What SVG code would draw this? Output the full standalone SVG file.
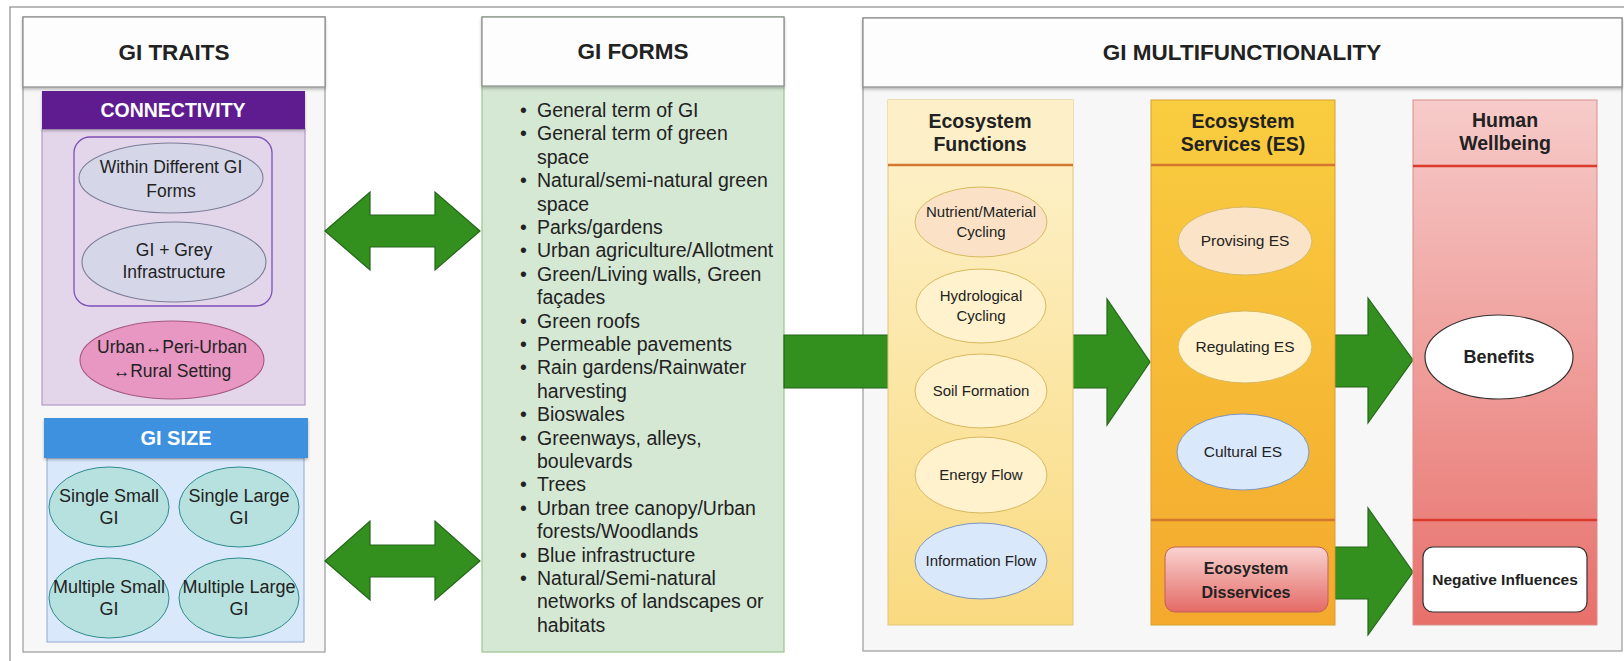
<svg xmlns="http://www.w3.org/2000/svg" width="1624" height="661" viewBox="0 0 1624 661">
  <defs>
    <style>
      text { font-family: "Liberation Sans", Arial, sans-serif; fill: #222; }
      .hdr { font-size: 22.5px; font-weight: bold; text-anchor: middle; }
      .sub { font-size: 19.5px; font-weight: bold; text-anchor: middle; fill: #fff; }
      .col { font-size: 19.5px; font-weight: bold; text-anchor: middle; }
      .lbl { font-size: 17.5px; text-anchor: middle; }
      .sm  { font-size: 18px; text-anchor: middle; }
      .ef  { font-size: 15px; text-anchor: middle; }
      .es  { font-size: 15.5px; text-anchor: middle; }
      .bl  { font-size: 16px; font-weight: bold; text-anchor: middle; }
      .list { font-size: 19.5px; }
      .panel { fill: #f7f7f7; stroke: #9a9a9a; stroke-width: 1.2; }
      .phead { fill: #fdfdfd; stroke: #8a8a8a; stroke-width: 1.2; }
      .arrow { fill: #33901f; stroke: #24661a; stroke-width: 1.2; }
    </style>
    <linearGradient id="gEF" x1="0" y1="0" x2="0" y2="1">
      <stop offset="0" stop-color="#fef3cf"/>
      <stop offset="1" stop-color="#f9da80"/>
    </linearGradient>
    <linearGradient id="gES" x1="0" y1="0" x2="0" y2="1">
      <stop offset="0" stop-color="#f9cd40"/>
      <stop offset="1" stop-color="#f4a92d"/>
    </linearGradient>
    <linearGradient id="gHW" x1="0" y1="0" x2="0" y2="1">
      <stop offset="0" stop-color="#f6cbc9"/>
      <stop offset="1" stop-color="#e8706b"/>
    </linearGradient>
    <linearGradient id="gDis" x1="0" y1="0" x2="0" y2="1">
      <stop offset="0" stop-color="#f9d3d0"/>
      <stop offset="1" stop-color="#e56a66"/>
    </linearGradient>
    <filter id="shadow" x="-5%" y="-20%" width="110%" height="150%">
      <feDropShadow dx="0" dy="2" stdDeviation="1.5" flood-color="#000" flood-opacity="0.25"/>
    </filter>
  </defs>

  <rect width="1624" height="661" fill="#ffffff"/>
  <!-- outer frame -->
  <rect x="10" y="7" width="1630" height="670" fill="none" stroke="#8c8c8c" stroke-width="1.2"/>

  <!-- GI TRAITS panel -->
  <g id="gi-traits">
    <rect class="panel" x="23" y="17" width="302" height="635" fill="#f8f8f8"/>
    <rect class="phead" x="23" y="17" width="302" height="70" filter="url(#shadow)"/>
    <text class="hdr" x="174" y="60">GI TRAITS</text>
  </g>

  <g id="connectivity">
    <rect x="42" y="129" width="263" height="276" fill="#e3d5ea" stroke="#a98cc0" stroke-width="1"/>
    <rect x="42" y="91" width="263" height="38" fill="#5f1b91" filter="url(#shadow)"/>
    <text class="sub" x="173" y="117">CONNECTIVITY</text>
    <rect x="74" y="137" width="198" height="169" rx="16" fill="none" stroke="#7e50b6" stroke-width="1.3"/>
  </g>
  <g id="within-forms">
    <ellipse cx="171" cy="178" rx="92" ry="35" fill="#d5d7e9" stroke="#7b7d99" stroke-width="1.1"/>
    <text class="lbl" x="171" y="173">Within Different GI</text>
    <text class="lbl" x="171" y="197">Forms</text>
  </g>
  <g id="gi-grey">
    <ellipse cx="174" cy="262" rx="92" ry="40" fill="#d5d7e9" stroke="#7b7d99" stroke-width="1.1"/>
    <text class="lbl" x="174" y="256">GI + Grey</text>
    <text class="lbl" x="174" y="278">Infrastructure</text>
  </g>
  <g id="urban-rural">
    <ellipse cx="172" cy="360" rx="92" ry="39" fill="#e897c2" stroke="#a5577f" stroke-width="1.1"/>
    <text class="lbl" x="172" y="353">Urban↔Peri-Urban</text>
    <text class="lbl" x="172" y="377">↔Rural Setting</text>
  </g>

  <g id="gi-size">
    <rect x="47" y="458" width="257" height="184" fill="#dae8fc" stroke="#8fa9d0" stroke-width="1"/>
    <rect x="44" y="418" width="264" height="40" fill="#3e91de" filter="url(#shadow)"/>
    <text class="sub" x="176" y="445" style="font-size:20px">GI SIZE</text>
  </g>
  <g id="single-small">
    <ellipse cx="109" cy="507" rx="60" ry="40" fill="#b7e1df" stroke="#2f8a8e" stroke-width="1"/>
    <text class="sm" x="109" y="502">Single Small</text>
    <text class="sm" x="109" y="524">GI</text>
  </g>
  <g id="single-large">
    <ellipse cx="239" cy="507" rx="60" ry="40" fill="#b7e1df" stroke="#2f8a8e" stroke-width="1"/>
    <text class="sm" x="239" y="502">Single Large</text>
    <text class="sm" x="239" y="524">GI</text>
  </g>
  <g id="multiple-small">
    <ellipse cx="109" cy="598" rx="60" ry="40" fill="#b7e1df" stroke="#2f8a8e" stroke-width="1"/>
    <text class="sm" x="109" y="593">Multiple Small</text>
    <text class="sm" x="109" y="615">GI</text>
  </g>
  <g id="multiple-large">
    <ellipse cx="239" cy="598" rx="60" ry="40" fill="#b7e1df" stroke="#2f8a8e" stroke-width="1"/>
    <text class="sm" x="239" y="593">Multiple Large</text>
    <text class="sm" x="239" y="615">GI</text>
  </g>

  <!-- GI FORMS panel -->
  <g id="gi-forms">
    <rect x="482" y="17" width="302" height="635" fill="#d5e8d4" stroke="#9cc48f" stroke-width="1.2"/>
    <rect class="phead" x="482" y="17" width="302" height="69" filter="url(#shadow)"/>
    <text class="hdr" x="633" y="59">GI FORMS</text>
    <g class="list">
      <text x="520" y="117">•</text><text x="537" y="117">General term of GI</text>
      <text x="520" y="140.4">•</text><text x="537" y="140.4">General term of green</text>
      <text x="537" y="163.8">space</text>
      <text x="520" y="187.2">•</text><text x="537" y="187.2">Natural/semi-natural green</text>
      <text x="537" y="210.6">space</text>
      <text x="520" y="234">•</text><text x="537" y="234">Parks/gardens</text>
      <text x="520" y="257.4">•</text><text x="537" y="257.4">Urban agriculture/Allotment</text>
      <text x="520" y="280.8">•</text><text x="537" y="280.8">Green/Living walls, Green</text>
      <text x="537" y="304.2">façades</text>
      <text x="520" y="327.6">•</text><text x="537" y="327.6">Green roofs</text>
      <text x="520" y="351">•</text><text x="537" y="351">Permeable pavements</text>
      <text x="520" y="374.4">•</text><text x="537" y="374.4">Rain gardens/Rainwater</text>
      <text x="537" y="397.8">harvesting</text>
      <text x="520" y="421.2">•</text><text x="537" y="421.2">Bioswales</text>
      <text x="520" y="444.6">•</text><text x="537" y="444.6">Greenways, alleys,</text>
      <text x="537" y="468">boulevards</text>
      <text x="520" y="491.4">•</text><text x="537" y="491.4">Trees</text>
      <text x="520" y="514.8">•</text><text x="537" y="514.8">Urban tree canopy/Urban</text>
      <text x="537" y="538.2">forests/Woodlands</text>
      <text x="520" y="561.6">•</text><text x="537" y="561.6">Blue infrastructure</text>
      <text x="520" y="585">•</text><text x="537" y="585">Natural/Semi-natural</text>
      <text x="537" y="608.4">networks of landscapes or</text>
      <text x="537" y="631.8">habitats</text>
    </g>
  </g>

  <!-- GI MULTIFUNCTIONALITY panel -->
  <g id="gi-multifunctionality">
    <rect class="panel" x="863" y="18" width="759" height="633"/>
    <rect class="phead" x="863" y="18" width="759" height="69" filter="url(#shadow)"/>
    <text class="hdr" x="1242" y="60">GI MULTIFUNCTIONALITY</text>
  </g>

  <!-- connectors -->
  <g id="connectors">
    <polygon class="arrow" points="325,231 370,192 370,215 435,215 435,192 480,231 435,270 435,247 370,247 370,270"/>
    <polygon class="arrow" points="325,561 370,521 370,545 435,545 435,521 480,561 435,600 435,577 370,577 370,600"/>
    <polygon class="arrow" points="784,335 1107,335 1107,299 1150,362 1107,425 1107,388 784,388"/>
    <polygon class="arrow" points="1335,335 1368,335 1368,298 1413,360 1368,423 1368,387 1335,387"/>
    <polygon class="arrow" points="1335,547 1368,547 1368,508 1413,572 1368,635 1368,599 1335,599"/>
  </g>

  <!-- Ecosystem Functions column -->
  <g id="ecosystem-functions">
    <rect x="888" y="100" width="185" height="525" fill="url(#gEF)" stroke="#e2c678" stroke-width="1"/>
    <rect x="888" y="100" width="185" height="65" fill="#fdf0c9"/>
    <line x1="888" y1="165" x2="1073" y2="165" stroke="#d2782f" stroke-width="2.5"/>
    <text class="col" x="980" y="128">Ecosystem</text>
    <text class="col" x="980" y="151">Functions</text>
  </g>
  <g id="nutrient-cycling">
    <ellipse cx="981" cy="222" rx="66" ry="35" fill="#fbe2c6" stroke="#d7b95e" stroke-width="1"/>
    <text class="ef" x="981" y="217">Nutrient/Material</text>
    <text class="ef" x="981" y="237">Cycling</text>
  </g>
  <g id="hydrological-cycling">
    <ellipse cx="981" cy="306" rx="65" ry="37" fill="#fff2cd" stroke="#d7b95e" stroke-width="1"/>
    <text class="ef" x="981" y="301">Hydrological</text>
    <text class="ef" x="981" y="321">Cycling</text>
  </g>
  <g id="soil-formation">
    <ellipse cx="981" cy="391" rx="66" ry="37" fill="#fff2cd" stroke="#d7b95e" stroke-width="1"/>
    <text class="ef" x="981" y="396">Soil Formation</text>
  </g>
  <g id="energy-flow">
    <ellipse cx="981" cy="475" rx="66" ry="38" fill="#fff2cd" stroke="#d7b95e" stroke-width="1"/>
    <text class="ef" x="981" y="480">Energy Flow</text>
  </g>
  <g id="information-flow">
    <ellipse cx="981" cy="561" rx="66" ry="38" fill="#dae8fc" stroke="#7b96c2" stroke-width="1"/>
    <text class="ef" x="981" y="566">Information Flow</text>
  </g>

  <!-- Ecosystem Services column -->
  <g id="ecosystem-services">
    <rect x="1151" y="100" width="184" height="525" fill="url(#gES)" stroke="#d8a030" stroke-width="1"/>
    <line x1="1151" y1="165" x2="1335" y2="165" stroke="#d2782f" stroke-width="2.5"/>
    <line x1="1151" y1="520" x2="1335" y2="520" stroke="#d2782f" stroke-width="2.5"/>
    <text class="col" x="1243" y="128">Ecosystem</text>
    <text class="col" x="1243" y="151">Services (ES)</text>
  </g>
  <g id="provising-es">
    <ellipse cx="1245" cy="241" rx="67" ry="34" fill="#fbe3c7" stroke="#d7b95e" stroke-width="1"/>
    <text class="es" x="1245" y="246">Provising ES</text>
  </g>
  <g id="regulating-es">
    <ellipse cx="1245" cy="347" rx="67" ry="36" fill="#fff2cd" stroke="#d7b95e" stroke-width="1"/>
    <text class="es" x="1245" y="352">Regulating ES</text>
  </g>
  <g id="cultural-es">
    <ellipse cx="1243" cy="452" rx="66" ry="38" fill="#dae8fc" stroke="#7b96c2" stroke-width="1"/>
    <text class="es" x="1243" y="457">Cultural ES</text>
  </g>
  <g id="disservices">
    <rect x="1165" y="547" width="163" height="65" rx="10" fill="url(#gDis)" stroke="#c0605c" stroke-width="1"/>
    <text class="bl" x="1246" y="574">Ecosystem</text>
    <text class="bl" x="1246" y="598">Disservices</text>
  </g>

  <!-- Human Wellbeing column -->
  <g id="human-wellbeing">
    <rect x="1413" y="100" width="184" height="525" fill="url(#gHW)" stroke="#d98d8a" stroke-width="1"/>
    <line x1="1413" y1="166" x2="1597" y2="166" stroke="#dc3a2c" stroke-width="2.5"/>
    <line x1="1413" y1="520" x2="1597" y2="520" stroke="#dc3a2c" stroke-width="2.5"/>
    <text class="col" x="1505" y="127">Human</text>
    <text class="col" x="1505" y="150">Wellbeing</text>
  </g>
  <g id="benefits">
    <ellipse cx="1499" cy="357" rx="74" ry="42" fill="#ffffff" stroke="#333" stroke-width="1.2"/>
    <text class="bl" x="1499" y="363" style="font-size:18px">Benefits</text>
  </g>
  <g id="negative-influences">
    <rect x="1423" y="547" width="164" height="65" rx="10" fill="#ffffff" stroke="#333" stroke-width="1.2"/>
    <text class="bl" x="1505" y="585" style="font-size:15.5px">Negative Influences</text>
  </g>
</svg>
